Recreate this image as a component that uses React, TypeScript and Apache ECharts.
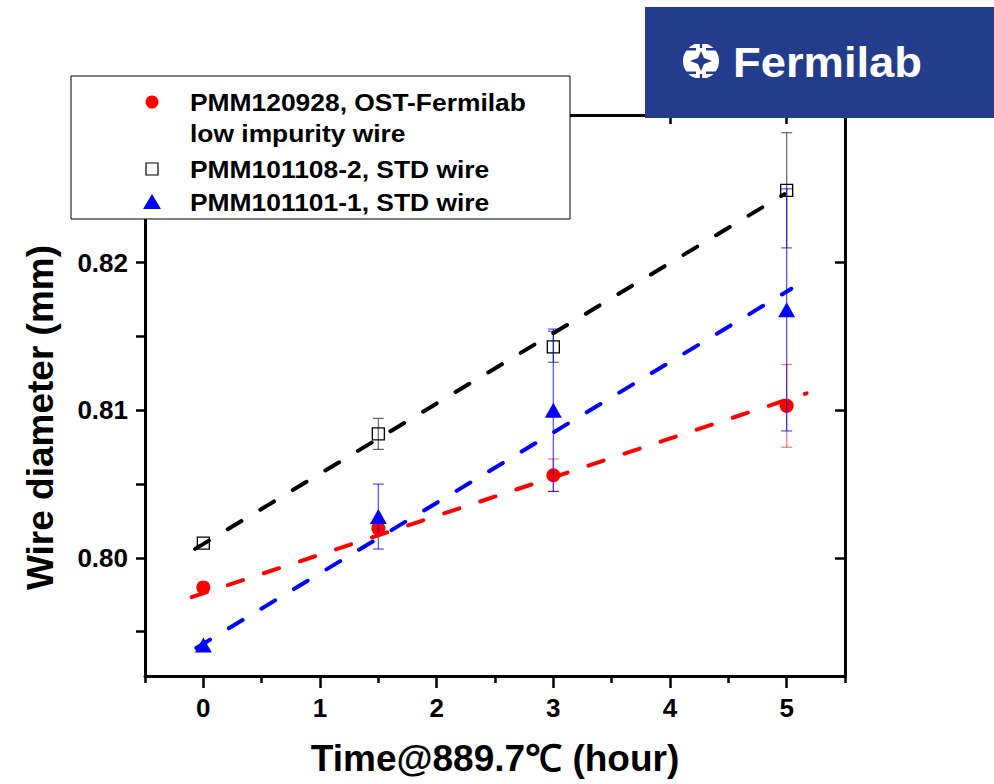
import React, { useEffect, useRef } from "react";
import * as echarts from "echarts";

// ---- data ----
const times = [0, 1.5, 3, 5];

const redName = "PMM120928, OST-Fermilab";
const redName2 = "low impurity wire";
const redValues = [0.798, 0.802, 0.8056, 0.8103];
const redErrors = [0, 0.0003, 0.0011, 0.0028];

const blackName = "PMM101108-2, STD wire";
const blackValues = [0.801, 0.8084, 0.8143, 0.8249];
const blackErrors = [0, 0.00105, 0.00105, 0.0039];

const blueName = "PMM101101-1, STD wire";
const blueValues = [0.7941, 0.8028, 0.81, 0.8168];
const blueErrors = [0, 0.0022, 0.0055, 0.0082];

// linear fit lines (start / end in data units)
const redFit = [
  [-0.1, 0.79734],
  [5.17, 0.81115],
];
const blackFit = [
  [-0.07, 0.80061],
  [4.98, 0.82464],
];
const blueFit = [
  [-0.06, 0.7939],
  [5.04, 0.81823],
];

const xMajorTicks = [0, 1, 2, 3, 4, 5];
const xMinorTicks = [-0.5, 0.5, 1.5, 2.5, 3.5, 4.5, 5.5];
const yMajorTicks = [0.8, 0.81, 0.82];
const yAllTicks = [0.795, 0.8, 0.805, 0.81, 0.815, 0.82, 0.825];

const xTitle = "Time@889.7\u2103 (hour)";
const yTitle = "Wire diameter (mm)";

const FONT = "'Liberation Sans', Arial, Helvetica, sans-serif";

function errorSeries(values: number[], errors: number[], color: string, z: number) {
  const data = times.map((t, i) => [t, values[i] - errors[i], values[i] + errors[i]]);
  return {
    type: "custom",
    silent: true,
    z,
    xAxisIndex: 0,
    yAxisIndex: 0,
    encode: { x: 0, y: [1, 2] },
    data,
    renderItem: (params: any, api: any) => {
      const x = api.value(0);
      const lo = api.value(1);
      const hi = api.value(2);
      if (hi - lo <= 0) return { type: "group", children: [] };
      const pLo = api.coord([x, lo]);
      const pHi = api.coord([x, hi]);
      const w = 5.5;
      const st = { stroke: color, lineWidth: 1.2 };
      return {
        type: "group",
        children: [
          { type: "line", shape: { x1: pLo[0], y1: pLo[1], x2: pHi[0], y2: pHi[1] }, style: st },
          { type: "line", shape: { x1: pLo[0] - w, y1: pLo[1], x2: pLo[0] + w, y2: pLo[1] }, style: st },
          { type: "line", shape: { x1: pHi[0] - w, y1: pHi[1], x2: pHi[0] + w, y2: pHi[1] }, style: st },
        ],
      };
    },
  };
}

function fitSeries(data: number[][], color: string) {
  return {
    type: "line",
    data,
    z: 6,
    showSymbol: false,
    symbol: "none",
    silent: true,
    lineStyle: { color, width: 4, type: [16, 22], cap: "round" },
  };
}

export default function App() {
  const ref = useRef<HTMLDivElement>(null);

  useEffect(() => {
    document.body.style.margin = "0";
    if (!ref.current) return;
    const chart = echarts.init(ref.current, undefined, { renderer: "svg" });

    const axisBase = {
      type: "value",
      min: -0.5,
      max: 5.5,
      splitLine: { show: false },
    };
    const yBase = {
      type: "value",
      min: 0.792,
      max: 0.83,
      splitLine: { show: false },
    };
    const lineCol = { color: "#000", width: 3 };
    const tickCol = { color: "#000", width: 2.5 };
    const noLine = { show: false, onZero: false };

    const legendX = 71;
    const legendY = 76;
    const textX = 190;
    const markX = 152;
    const rows = [102, 133, 169, 202];
    const legendTexts = [redName, redName2, blackName, blueName];
    const logoBlue = "#243c8c";

    const option: any = {
      animation: false,
      backgroundColor: "#fff",
      grid: { left: 145, right: 149, top: 115, bottom: 108, containLabel: false },
      xAxis: [
        {
          ...axisBase,
          position: "bottom",
          axisLine: { show: true, onZero: false, lineStyle: lineCol },
          axisTick: { show: true, inside: false, length: 12, customValues: xMajorTicks, lineStyle: tickCol },
          axisLabel: {
            show: true,
            customValues: xMajorTicks,
            margin: 19,
            fontSize: 26,
            fontWeight: "bold",
            color: "#000",
            fontFamily: FONT,
          },
          name: xTitle,
          nameLocation: "middle",
          nameGap: 64,
          nameTextStyle: { fontSize: 37, fontWeight: "bold", color: "#000", fontFamily: FONT },
        },
        {
          ...axisBase,
          position: "bottom",
          axisLine: noLine,
          axisTick: { show: true, inside: false, length: 7, customValues: xMinorTicks, lineStyle: tickCol },
          axisLabel: { show: false },
        },
        {
          ...axisBase,
          position: "top",
          axisLine: { show: true, onZero: false, lineStyle: lineCol },
          axisTick: { show: true, inside: true, length: 9, customValues: xMajorTicks, lineStyle: tickCol },
          axisLabel: { show: false },
        },
      ],
      yAxis: [
        {
          ...yBase,
          position: "left",
          axisLine: { show: true, onZero: false, lineStyle: lineCol },
          axisTick: { show: true, inside: false, length: 9, customValues: yAllTicks, lineStyle: tickCol },
          axisLabel: {
            show: true,
            customValues: yMajorTicks,
            margin: 17,
            fontSize: 26,
            fontWeight: "bold",
            color: "#000",
            fontFamily: FONT,
            formatter: (v: number) => v.toFixed(2),
          },
          name: yTitle,
          nameLocation: "middle",
          nameGap: 86,
          nameTextStyle: {
            fontSize: 37,
            fontWeight: "bold",
            color: "#000",
            fontFamily: FONT,
            padding: [0, 44, 0, 0],
          },
        },
        {
          ...yBase,
          position: "right",
          axisLine: { show: true, onZero: false, lineStyle: lineCol },
          axisTick: { show: true, inside: true, length: 10, customValues: yMajorTicks, lineStyle: tickCol },
          axisLabel: { show: false },
        },
      ],
      series: [
        {
          name: redName,
          type: "scatter",
          z: 2,
          symbol: "circle",
          symbolSize: 14,
          itemStyle: { color: "#ff0000", opacity: 1 },
          data: times.map((t, i) => [t, redValues[i]]),
        },
        errorSeries(redValues, redErrors, "rgba(255,0,0,0.55)", 3),
        {
          name: blackName,
          type: "scatter",
          z: 4,
          symbol: "rect",
          symbolSize: 12,
          itemStyle: { color: "rgba(255,255,255,0)", borderColor: "#000", borderWidth: 1.3, opacity: 1 },
          data: times.map((t, i) => [t, blackValues[i]]),
        },
        errorSeries(blackValues, blackErrors, "rgba(0,0,0,0.6)", 3),
        errorSeries(blueValues, blueErrors, "rgba(0,0,255,0.7)", 3),
        {
          name: blueName,
          type: "scatter",
          z: 4,
          symbol: "triangle",
          symbolSize: [17, 15],
          itemStyle: { color: "#0000ff", opacity: 1 },
          data: times.map((t, i) => [t, blueValues[i]]),
        },
        fitSeries(blackFit, "#000000"),
        fitSeries(blueFit, "#0000ff"),
        fitSeries(redFit, "#ff0000"),
      ],
      graphic: [
        // legend box
        {
          type: "rect",
          z: 100,
          shape: { x: legendX, y: legendY, width: 499, height: 143 },
          style: { fill: "#fff", stroke: "#000", lineWidth: 1 },
        },
        { type: "circle", z: 101, shape: { cx: markX, cy: rows[0], r: 6.5 }, style: { fill: "#ff0000" } },
        {
          type: "rect",
          z: 101,
          shape: { x: markX - 6, y: rows[2] - 6, width: 12, height: 12 },
          style: { fill: "#fff", stroke: "#000", lineWidth: 1.2 },
        },
        {
          type: "polygon",
          z: 101,
          shape: { points: [[markX, rows[3] - 8], [markX - 9, rows[3] + 7], [markX + 9, rows[3] + 7]] },
          style: { fill: "#0000ff" },
        },
        ...legendTexts.map((t, i) => ({
          type: "text",
          z: 101,
          x: textX,
          y: rows[i],
          scaleX: 1.1,
          style: {
            text: t,
            fill: "#000",
            font: `bold 24px ${FONT}`,
            textAlign: "left",
            textVerticalAlign: "middle",
          },
        })),
        // Fermilab logo
        {
          type: "rect",
          z: 100,
          shape: { x: 645, y: 7, width: 349, height: 111 },
          style: { fill: logoBlue },
        },
        {
          type: "circle",
          z: 101,
          shape: { cx: 701, cy: 61, r: 18 },
          style: { fill: "#ffffff" },
        },
        ...[
          [680, 48, 16, 2.5],
          [706, 48, 16, 2.5],
          [680, 71.5, 16, 2.5],
          [706, 71.5, 16, 2.5],
          [699.8, 40, 2.4, 8],
          [699.8, 74, 2.4, 8],
          [680, 42, 42, 2],
          [680, 78, 42, 3],
          [680, 42, 3, 38],
          [719, 42, 3, 38],
        ].map((r) => ({
          type: "rect",
          z: 102,
          shape: { x: r[0], y: r[1], width: r[2], height: r[3] },
          style: { fill: logoBlue },
        })),
        {
          type: "polygon",
          z: 102,
          shape: {
            points: [
              [701, 51],
              [704, 58],
              [712, 61],
              [704, 64],
              [701, 71],
              [698, 64],
              [690, 61],
              [698, 58],
            ],
          },
          style: { fill: logoBlue },
        },
        {
          type: "text",
          z: 101,
          x: 733,
          y: 62,
          scaleX: 1.08,
          style: {
            text: "Fermilab",
            fill: "#ffffff",
            font: `bold 42px ${FONT}`,
            textAlign: "left",
            textVerticalAlign: "middle",
          },
        },
      ],
    };

    chart.setOption(option);
    return () => {
      chart.dispose();
    };
  }, []);

  return <div ref={ref} style={{ width: 994, height: 784 }} />;
}
